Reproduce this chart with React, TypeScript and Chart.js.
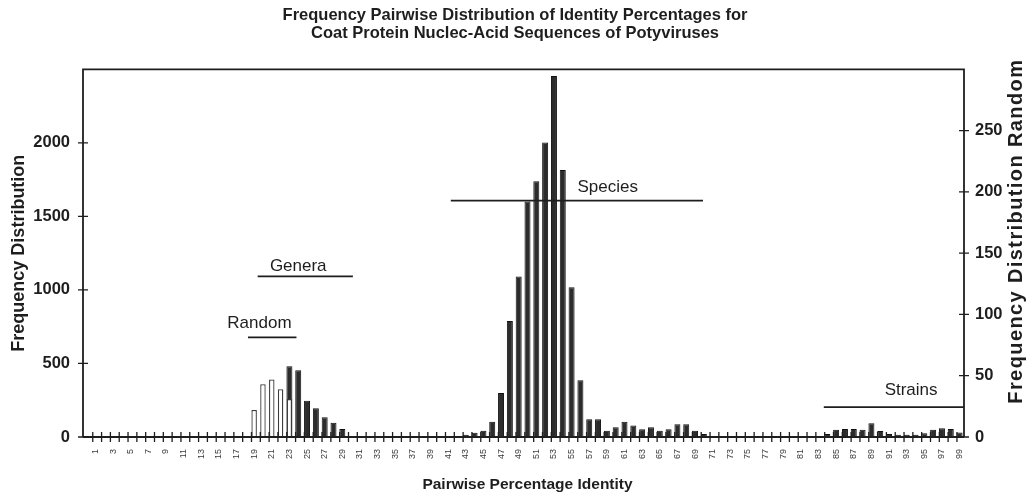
import React, { useEffect, useRef } from "react";
import { Chart, registerables } from "chart.js";

Chart.register(...registerables);

// ---- data ----
const identityLabels: string[] = [
  "1","2","3","4","5","6","7","8","9","10","11","12","13","14","15","16","17","18","19","20",
  "21","22","23","24","25","26","27","28","29","30","31","32","33","34","35","36","37","38","39","40",
  "41","42","43","44","45","46","47","48","49","50","51","52","53","54","55","56","57","58","59","60",
  "61","62","63","64","65","66","67","68","69","70","71","72","73","74","75","76","77","78","79","80",
  "81","82","83","84","85","86","87","88","89","90","91","92","93","94","95","96","97","98","99",
];

// Frequency distribution (left axis), one value per identity 1..99
const frequency: number[] = [
  0, 0, 0, 0, 0, 0, 0, 0, 0, 0, 0, 0, 0, 0, 0, 0, 0, 0, // 1-18
  0, 0, 0, 0, // 19-22
  481, 454, 246, 195, 134, 97, 54, // 23-29
  0, 0, 0, 0, 0, 0, 0, 0, 0, 0, 0, 0, 0, // 30-42
  15, 29, 43, 104, 300, 789, 1092, 1602, 1738, 2002, 2454, 1815, 1019, 386, 120, 120, // 43-58
  43, 66, 104, 79, 52, 66, 43, 52, 86, 86, 43, 20, 5, // 59-71
  0, 0, 0, 0, 0, 0, 0, 0, 0, 0, 0, 0, // 72-83
  20, 50, 55, 55, 50, 93, 40, 20, 15, 15, 15, 25, 50, 60, 55, 30, // 84-99
];

// Random frequency distribution (right axis)
const randomFrequency: number[] = [
  0, 0, 0, 0, 0, 0, 0, 0, 0, 0, 0, 0, 0, 0, 0, 0, 0, 0, // 1-18
  22, 43, 47, 39, 31, // 19-23
  0, 0, 0, 0, 0, 0, 0, 0, 0, 0, 0, 0, 0, 0, 0, 0, 0, 0, 0, 0, 0, 0, 0, 0, 0, 0, // 24-49
  0, 0, 0, 0, 0, 0, 0, 0, 0, 0, 0, 0, 0, 0, 0, 0, 0, 0, 0, 0, 0, 0, 0, 0, 0, 0, // 50-75
  0, 0, 0, 0, 0, 0, 0, 0, 0, 0, 0, 0, 0, 0, 0, 0, 0, 0, 0, 0, 0, 0, 0, 0, // 76-99
];

const leftTicks: number[] = [0, 500, 1000, 1500, 2000];
const rightTicks: number[] = [0, 50, 100, 150, 200, 250];

// range annotations (identity values, left-axis level)
const rangeNames: string[] = ["Random", "Genera", "Species", "Strains"];
const rangeStart: number[] = [18.3, 19.4, 41.3, 83.6];
const rangeEnd: number[] = [23.8, 30.2, 69.9, 99.5];
const rangeLevel: number[] = [678, 1092, 1607, 203];
const rangeLabelAt: number[] = [19.6, 24.0, 59.1, 93.5];
const rangeLabelLevel: number[] = [773, 1159, 1695, 319];

const titleLines: string[] = [
  "Frequency Pairwise Distribution of Identity Percentages for",
  "Coat Protein Nuclec-Acid Sequences of Potyviruses",
];
const leftAxisTitle = "Frequency Distribution";
const rightAxisTitle = "Frequency Distribution Random";
const bottomAxisTitle = "Pairwise Percentage Identity";

const FONT = '"Liberation Sans", Arial, Helvetica, sans-serif';
const INK = "#1e1e1e";
const AXIS_GAP = 8;

const framePlugin = {
  id: "frame",
  afterDatasetsDraw(chart: any) {
    const { ctx, chartArea: a, scales } = chart;
    const x0 = a.left - AXIS_GAP;
    ctx.save();
    ctx.strokeStyle = INK;
    ctx.lineWidth = 1.8;
    ctx.beginPath();
    ctx.moveTo(x0, a.bottom);
    ctx.lineTo(x0, a.top);
    ctx.lineTo(a.right, a.top);
    ctx.lineTo(a.right, a.bottom);
    ctx.moveTo(x0, a.bottom);
    ctx.lineTo(a.right, a.bottom);
    ctx.stroke();

    ctx.lineWidth = 1.3;
    ctx.beginPath();
    scales.y.ticks.forEach((t: any) => {
      const py = scales.y.getPixelForValue(t.value);
      ctx.moveTo(x0 - 5, py);
      ctx.lineTo(x0 + 5, py);
    });
    scales.y2.ticks.forEach((t: any) => {
      const py = scales.y2.getPixelForValue(t.value);
      ctx.moveTo(a.right - 5, py);
      ctx.lineTo(a.right + 5, py);
    });
    const xs = scales.x;
    for (let i = 0; i < identityLabels.length; i++) {
      const px = xs.getPixelForValue(i - 0.3);
      ctx.moveTo(px, a.bottom - 5);
      ctx.lineTo(px, a.bottom + 5);
    }
    ctx.stroke();

    // range annotations
    ctx.lineWidth = 1.7;
    ctx.fillStyle = INK;
    ctx.font = `17px ${FONT}`;
    ctx.textAlign = "center";
    ctx.textBaseline = "middle";
    for (let k = 0; k < rangeNames.length; k++) {
      const xa = xs.getPixelForValue(rangeStart[k] - 1);
      const xb = Math.min(xs.getPixelForValue(rangeEnd[k] - 1), a.right);
      const py = scales.y.getPixelForValue(rangeLevel[k]);
      ctx.beginPath();
      ctx.moveTo(xa, py);
      ctx.lineTo(xb, py);
      ctx.stroke();
      ctx.fillText(
        rangeNames[k],
        xs.getPixelForValue(rangeLabelAt[k] - 1),
        scales.y.getPixelForValue(rangeLabelLevel[k])
      );
    }

    // right axis title, reading bottom to top
    const r = scales.y2;
    ctx.save();
    ctx.translate(r.right - 14, (a.top + a.bottom) / 2 - 22);
    ctx.rotate(-Math.PI / 2);
    ctx.font = `bold 20px ${FONT}`;
    try {
      (ctx as any).letterSpacing = "1.4px";
    } catch (e) {}
    ctx.fillText(rightAxisTitle, 0, 0);
    ctx.restore();
    ctx.restore();
  },
};

export default function App() {
  const ref = useRef<HTMLCanvasElement | null>(null);

  useEffect(() => {
    document.body.style.margin = "0";
    const canvas = ref.current;
    if (!canvas) return;
    const chart = new Chart(canvas, {
      type: "bar",
      data: {
        labels: identityLabels,
        datasets: [
          {
            label: "Random",
            data: randomFrequency,
            yAxisID: "y2",
            backgroundColor: "#ffffff",
            borderColor: "#3a3a3a",
            borderWidth: 1.3,
            barPercentage: 0.62,
            categoryPercentage: 1,
            grouped: false,
          },
          {
            label: "Frequency",
            data: frequency,
            yAxisID: "y",
            backgroundColor: "#2c2c2c",
            borderColor: "#111111",
            borderWidth: 1,
            barPercentage: 0.68,
            categoryPercentage: 1,
            grouped: false,
          },
        ],
      },
      options: {
        responsive: false,
        animation: false,
        layout: { padding: 0 },
        plugins: {
          legend: { display: false },
          tooltip: { enabled: false },
          title: {
            display: true,
            text: titleLines,
            color: INK,
            font: { family: FONT, size: 16.5, weight: "bold", lineHeight: 1.1 },
            padding: { top: 6, bottom: 27 },
          },
        },
        scales: {
          x: {
            type: "category",
            grid: { display: false, drawTicks: false },
            border: { display: false },
            ticks: {
              autoSkip: false,
              minRotation: 90,
              maxRotation: 90,
              padding: 12,
              color: "#3a3a3a",
              font: { family: FONT, size: 9 },
              callback: (_v: any, i: number) => (i % 2 === 0 ? identityLabels[i] : ""),
            },
            title: {
              display: true,
              text: bottomAxisTitle,
              color: INK,
              font: { family: FONT, size: 15.5, weight: "bold" },
              padding: { top: 0, bottom: 3 },
            },
            afterFit: (s: any) => {
              s.height = 60;
            },
          },
          y: {
            position: "left",
            min: 0,
            max: 2500,
            grid: { display: false, drawTicks: false },
            border: { display: false },
            ticks: {
              stepSize: 500,
              padding: 21,
              color: INK,
              font: { family: FONT, size: 16.5, weight: "bold" },
              callback: (v: any) => String(v),
            },
            afterBuildTicks: (s: any) => {
              s.ticks = leftTicks.map((v) => ({ value: v }));
            },
            title: {
              display: true,
              text: leftAxisTitle,
              color: INK,
              font: { family: FONT, size: 18, weight: "bold" },
              padding: { top: 8, bottom: 0 },
            },
            afterFit: (s: any) => {
              s.width = 91;
            },
          },
          y2: {
            position: "right",
            min: 0,
            max: 300,
            grid: { display: false, drawTicks: false },
            border: { display: false },
            ticks: {
              stepSize: 50,
              padding: 11,
              color: INK,
              font: { family: FONT, size: 16.5, weight: "bold" },
              callback: (v: any) => String(v),
            },
            afterBuildTicks: (s: any) => {
              s.ticks = rightTicks.map((v) => ({ value: v }));
            },
            title: { display: false },
            afterFit: (s: any) => {
              s.width = 66;
            },
          },
        },
      },
      plugins: [framePlugin],
    } as any);
    return () => chart.destroy();
  }, []);

  return (
    <div style={{ width: 1030, height: 497 }}>
      <canvas ref={ref} width={1030} height={497} />
    </div>
  );
}
